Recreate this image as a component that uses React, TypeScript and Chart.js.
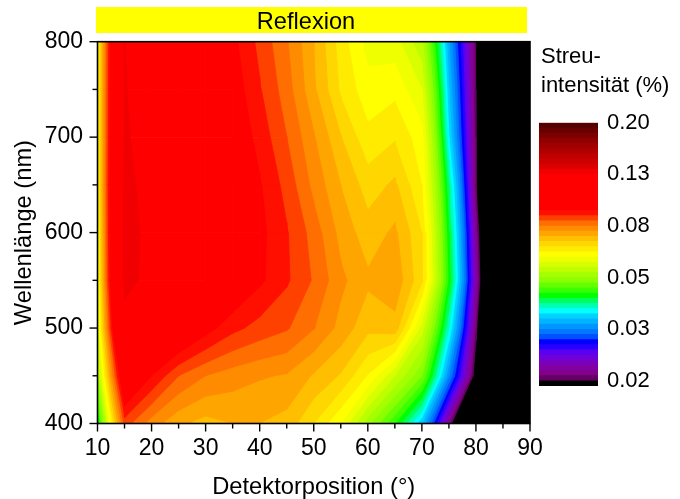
import React, { useEffect, useRef } from "react";
import { Chart, registerables } from "chart.js";

Chart.register(...registerables);

const FONT = "'Liberation Sans', Arial, sans-serif";

// Grid of scattering intensity (%): columns = detector position, rows = wavelength
const positions = [10, 15, 20, 25, 30, 35, 40, 45, 50, 55, 60, 65, 70, 75, 80, 85, 90];
const wavelengths = [800, 750, 700, 650, 600, 550, 500, 450, 400];
const row800 = [0.0618, 0.1264, 0.1151, 0.1099, 0.1002, 0.0927, 0.0861, 0.08, 0.0726, 0.0647, 0.0593, 0.0588, 0.0531, 0.0332, 0.0197, 0.006, 0.002];
const row750 = [0.0618, 0.1272, 0.1161, 0.1099, 0.1026, 0.0941, 0.0877, 0.0813, 0.0733, 0.0657, 0.0614, 0.0624, 0.0577, 0.0348, 0.0198, 0.006, 0.002];
const row700 = [0.0618, 0.128, 0.1195, 0.1099, 0.1049, 0.0957, 0.0898, 0.0834, 0.0764, 0.0695, 0.0641, 0.0659, 0.0615, 0.0364, 0.02, 0.006, 0.002];
const row650 = [0.0618, 0.1295, 0.1215, 0.1099, 0.1049, 0.0979, 0.0919, 0.0858, 0.0785, 0.0726, 0.0678, 0.07, 0.0632, 0.0399, 0.0201, 0.006, 0.002];
const row600 = [0.0604, 0.13, 0.1234, 0.1099, 0.1049, 0.0975, 0.0927, 0.0877, 0.0817, 0.0748, 0.0708, 0.0733, 0.0662, 0.0418, 0.0216, 0.006, 0.002];
const row550 = [0.059, 0.13, 0.1225, 0.1074, 0.1026, 0.0975, 0.0923, 0.0879, 0.0829, 0.0769, 0.0733, 0.075, 0.0668, 0.0429, 0.0224, 0.006, 0.002];
const row500 = [0.0563, 0.1205, 0.1049, 0.1002, 0.0935, 0.0885, 0.0858, 0.0838, 0.0798, 0.0748, 0.0702, 0.0713, 0.0563, 0.0381, 0.0205, 0.006, 0.002];
const row450 = [0.0502, 0.1021, 0.0914, 0.0834, 0.0796, 0.0777, 0.0764, 0.0757, 0.0722, 0.069, 0.063, 0.0551, 0.048, 0.0317, 0.0186, 0.005, 0.002];
const row400 = [0.0399, 0.0853, 0.0778, 0.0733, 0.0713, 0.0726, 0.0726, 0.0713, 0.0662, 0.0604, 0.0509, 0.0438, 0.0348, 0.0212, 0.0092, 0.004, 0.002];
const grid = [row800, row750, row700, row650, row600, row550, row500, row450, row400];

// Colour bar: 50 log-spaced bands above the black "below 0.02" band, listed from the lowest up
const belowColor = "#000000";
const bandColors = [
  "#640064", "#82008c", "#8200a0", "#7800be", "#6e00dc", "#5a00f0", "#2800ff", "#0000ff", "#0050ff", "#0078ff",
  "#0096ff", "#00b4ff", "#00d2ff", "#00ffff", "#00ffb4", "#00ff5a", "#00ff00", "#3cff00", "#64ff00", "#8cff00",
  "#a5ff00", "#beff00", "#d7ff00", "#f0ff00", "#ffff00", "#ffeb00", "#ffd700", "#ffbe00", "#ffa500", "#ff8c00",
  "#ff6e00", "#ff4100", "#ff0f00", "#ff0000", "#ff0000", "#ff0000", "#ff0000", "#ff0000", "#ff0000", "#ff0000",
  "#f00000", "#dc0000", "#cd0000", "#be0000", "#af0000", "#a00000", "#910000", "#7d0000", "#690000", "#550000",
];
const bandFloor = 0.0191;
const bandCeiling = 0.2;
const barTickValues = [0.02, 0.0317, 0.0502, 0.0796, 0.1262, 0.2];
const barTickLabels = ["0.02", "0.03", "0.05", "0.08", "0.13", "0.20"];

const xLabels = [10, 20, 30, 40, 50, 60, 70, 80, 90];
const xMinor = [15, 25, 35, 45, 55, 65, 75, 85];
const yLabels = [400, 500, 600, 700, 800];
const yMinor = [450, 550, 650, 750];

const levelAt = (i: number) => 0.02 * Math.pow(10, i / 50);

type P = { x: number; y: number; v: number };

function clipAbove(poly: P[], level: number): P[] {
  const out: P[] = [];
  for (let i = 0; i < poly.length; i++) {
    const a = poly[i];
    const b = poly[(i + 1) % poly.length];
    const ia = a.v >= level;
    const ib = b.v >= level;
    if (ia) out.push(a);
    if (ia !== ib) {
      const t = (level - a.v) / (b.v - a.v);
      out.push({ x: a.x + (b.x - a.x) * t, y: a.y + (b.y - a.y) * t, v: level });
    }
  }
  return out;
}

function contourDatasets() {
  // every cell is painted from its lowest band upward, so no gap can open inside a cell
  const floors = [-Infinity];
  const colors = [belowColor];
  bandColors.forEach((c, i) => {
    if (c !== colors[colors.length - 1]) {
      floors.push(levelAt(i));
      colors.push(c);
    }
  });
  const sets: any[] = [];
  for (let b = 0; b < colors.length; b++) {
    const lo = floors[b];
    const hi = b + 1 < floors.length ? floors[b + 1] : Infinity;
    for (let r = 0; r < wavelengths.length - 1; r++) {
      for (let c = 0; c < positions.length - 1; c++) {
        const cell: P[] = [
          { x: positions[c], y: wavelengths[r], v: grid[r][c] },
          { x: positions[c + 1], y: wavelengths[r], v: grid[r][c + 1] },
          { x: positions[c + 1], y: wavelengths[r + 1], v: grid[r + 1][c + 1] },
          { x: positions[c], y: wavelengths[r + 1], v: grid[r + 1][c] },
        ];
        const vs = cell.map((p) => p.v);
        if (Math.min(...vs) >= hi) continue; // a higher band covers the whole cell
        const poly = lo === -Infinity ? cell : clipAbove(cell, lo);
        if (poly.length < 3) continue;
        sets.push({
          data: poly.map((p) => ({ x: p.x, y: p.y })),
          showLine: true,
          fill: "shape",
          tension: 0,
          pointRadius: 0,
          pointHoverRadius: 0,
          borderWidth: b === 0 ? 2 : 0.8,
          borderColor: colors[b],
          backgroundColor: colors[b],
          clip: 0,
        });
      }
    }
  }
  // Chart.js paints the first dataset last, so the highest band must come first
  return sets.reverse();
}

const axisPlugin = {
  id: "axisFrame",
  afterDatasetsDraw(chart: any) {
    const { ctx, chartArea: a, scales } = chart;
    ctx.save();
    ctx.strokeStyle = "#000";
    ctx.lineWidth = 1.4;
    const tickX = (v: number, len: number) => {
      const p = scales.x.getPixelForValue(v);
      ctx.beginPath();
      ctx.moveTo(p, a.bottom);
      ctx.lineTo(p, a.bottom + len);
      ctx.stroke();
    };
    const tickY = (v: number, len: number) => {
      const p = scales.y.getPixelForValue(v);
      ctx.beginPath();
      ctx.moveTo(a.left, p);
      ctx.lineTo(a.left - len, p);
      ctx.stroke();
    };
    xLabels.forEach((v) => tickX(v, 8));
    xMinor.forEach((v) => tickX(v, 5));
    yLabels.forEach((v) => tickY(v, 8));
    yMinor.forEach((v) => tickY(v, 5));
    ctx.lineWidth = 1.6;
    ctx.strokeRect(a.left, a.top, a.right - a.left, a.bottom - a.top);
    ctx.restore();
  },
};

export default function App() {
  const mainRef = useRef<HTMLCanvasElement>(null);
  const barRef = useRef<HTMLCanvasElement>(null);

  useEffect(() => {
    const main = new Chart(mainRef.current as HTMLCanvasElement, {
      type: "scatter",
      data: { datasets: contourDatasets() },
      plugins: [axisPlugin],
      options: {
        animation: false,
        responsive: false,
        events: [],
        layout: { padding: { left: 0, right: 150, top: 41.7, bottom: 0 } },
        plugins: { legend: { display: false }, tooltip: { enabled: false } },
        scales: {
          x: {
            type: "linear",
            min: 10,
            max: 90,
            grid: { display: false },
            border: { display: false },
            afterFit: (s: any) => { s.height = 75.5; s.paddingLeft = 0; s.paddingRight = 0; },
            afterBuildTicks: (s: any) => { s.ticks = xLabels.map((value) => ({ value })); },
            ticks: { color: "#000", padding: 3, maxRotation: 0, autoSkip: false, font: { family: FONT, size: 23 } },
            title: { display: true, text: "Detektorposition (°)", color: "#000", padding: { top: 0, bottom: -2.5 }, font: { family: FONT, size: 23.7 } },
          },
          y: {
            type: "linear",
            min: 400,
            max: 800,
            grid: { display: false },
            border: { display: false },
            afterFit: (s: any) => { s.width = 97.5; s.paddingTop = 0; s.paddingBottom = 0; },
            afterBuildTicks: (s: any) => { s.ticks = yLabels.map((value) => ({ value })); },
            ticks: { color: "#000", padding: 6.5, autoSkip: false, font: { family: FONT, size: 23 } },
            title: { display: true, text: "Wellenlänge (nm)", color: "#000", padding: { top: 10, bottom: 0 }, font: { family: FONT, size: 23.7 } },
          },
        },
      } as any,
    });

    const barColors = [belowColor, ...bandColors];
    const bar = new Chart(barRef.current as HTMLCanvasElement, {
      type: "bar",
      data: {
        labels: [""],
        // the first dataset is painted last: the lowest band ends up on top of the taller ones
        datasets: barColors.map((color, i) => ({
          data: [[bandFloor, i === 0 ? levelAt(0) : levelAt(i)]],
          backgroundColor: color,
          borderWidth: 0,
          barPercentage: 1,
          categoryPercentage: 1,
        })),
      } as any,
      options: {
        animation: false,
        responsive: false,
        events: [],
        layout: { padding: { left: 9, right: 0, top: 22.7, bottom: 14 } },
        plugins: { legend: { display: false }, tooltip: { enabled: false } },
        scales: {
          x: { display: false, stacked: true },
          y: {
            type: "logarithmic",
            position: "right",
            min: bandFloor,
            max: bandCeiling,
            grid: { display: false },
            border: { display: false },
            afterFit: (s: any) => { s.width = 82; s.paddingTop = 0; s.paddingBottom = 0; },
            afterBuildTicks: (s: any) => { s.ticks = barTickValues.map((value) => ({ value })); },
            ticks: {
              color: "#000",
              padding: 1,
              autoSkip: false,
              font: { family: FONT, size: 22 },
              callback: (v: any) => barTickLabels[barTickValues.indexOf(v)] ?? "",
            },
          },
        },
      } as any,
    });

    return () => {
      main.destroy();
      bar.destroy();
    };
  }, []);

  const text: React.CSSProperties = { position: "absolute", fontFamily: FONT, color: "#000", whiteSpace: "nowrap" };

  return (
    <div style={{ position: "absolute", left: 0, top: 0, width: 680, height: 499, background: "#fff", overflow: "hidden" }}>
      <canvas ref={mainRef} width={680} height={499} style={{ position: "absolute", left: 0, top: 0 }} />
      <canvas ref={barRef} width={150} height={300} style={{ position: "absolute", left: 530, top: 100 }} />
      <div style={{ ...text, left: 96, top: 7, width: 420, paddingRight: 11, height: 26, background: "#ffff00", textAlign: "center", lineHeight: "28px", fontSize: 23.6 }}>Reflexion</div>
      <div style={{ ...text, left: 541, top: 41, fontSize: 22, lineHeight: "29px" }}>
        Streu-
        <br />
        intensität (%)
      </div>
    </div>
  );
}
